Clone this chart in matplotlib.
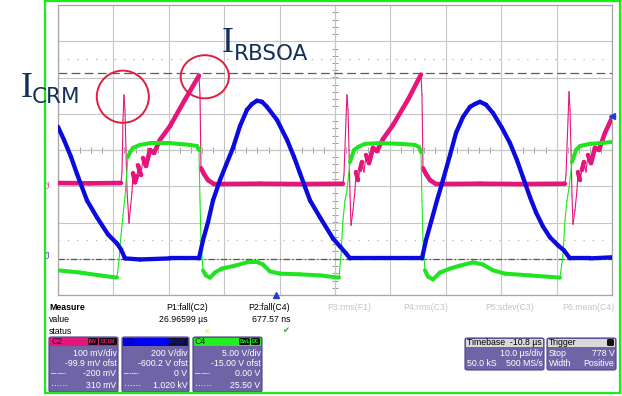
import numpy as np
import matplotlib.pyplot as plt
from matplotlib.collections import LineCollection
from matplotlib.patches import Ellipse, FancyBboxPatch, Rectangle

plt.rcParams['font.family'] = ['Liberation Sans', 'DejaVu Sans']

# SCREEN DATA: time in us (10 us/div), amplitude in screen divisions
# -------------------------
c2_t = [0, 5.78, 11.37, 11.55, 11.73, 11.91, 12.09, 12.27, 12.45, 12.82, 13.0, 13.36, 13.54,
        13.9, 14.26, 14.44, 14.98, 15.34, 15.88, 16.61, 17.33, 18.41, 20.22, 22.92, 25.45,
        25.63, 25.81, 26.35, 27.08, 28.16, 36.46, 43.68, 51.44,
        51.62, 51.98, 52.16, 52.35, 52.53, 52.71, 52.89, 53.25, 53.61, 53.79, 54.15, 54.51,
        54.87, 55.23, 55.6, 56.14, 56.86, 57.58, 58.66, 60.47, 63.18, 65.52, 65.7, 65.88,
        66.42, 67.15, 68.23, 76.17, 83.39, 91.51,
        91.69, 92.06, 92.24, 92.42, 92.6, 92.78, 92.96, 93.32, 93.68, 93.86, 94.22, 94.58,
        94.94, 95.3, 95.67, 96.21, 96.93, 97.65, 98.73, 100]
c2_y = [-0.91, -0.92, -0.91, -0.61, 0.83, 1.52, 1.11, 0.0, -1.11, -2.02, -1.72, -1.16, -0.64,
        -0.89, -0.72, -0.42, -0.69, -0.22, -0.44, 0.0, -0.08, 0.28, 0.66, 1.39, 2.05,
        1.52, -0.50, -0.66, -0.83, -0.94, -0.93, -0.94, -0.93,
        -0.69, 0.83, 1.52, 1.11, 0.0, -1.25, -2.08, -1.66, -1.11, -0.61, -0.83, -0.55,
        -0.33, -0.61, -0.14, -0.36, 0.06, -0.03, 0.30, 0.69, 1.39, 2.08, 1.52, -0.50,
        -0.66, -0.83, -0.94, -0.93, -0.94, -0.93,
        -0.69, 0.83, 1.61, 1.11, 0.0, -1.25, -2.05, -1.66, -1.11, -0.61, -0.83, -0.55,
        -0.33, -0.61, -0.14, -0.36, 0.06, 0.0, 0.47, 0.89]

c3_t = [0, 1.08, 2.35, 3.43, 5.23, 7.04, 9.03, 10.65, 11.37, 12.09, 14.8, 20.22, 25.45,
        26.17, 27.08, 27.98, 29.24, 30.32, 31.59, 32.85, 34.11, 35.02, 35.92, 36.82, 37.72,
        39.53, 41.34, 42.6, 43.68, 44.59, 45.49, 47.3, 49.64, 50.9, 51.98, 52.71, 58.12, 65.7,
        66.42, 67.33, 68.41, 69.49, 70.76, 71.84, 73.1, 74.37, 75.27, 76.17, 77.25, 78.52,
        80.14, 81.59, 82.85, 83.93, 85.2, 86.28, 87.54, 88.81, 90.25, 91.33, 92.42, 96.03, 100]
c3_y = [0.64, 0.28, -0.19, -0.66, -1.39, -1.86, -2.33, -2.58, -2.74, -2.99, -3.02, -2.99, -2.99,
        -2.49, -1.99, -1.39, -0.83, -0.42, 0.06, 0.66, 1.11, 1.27, 1.36, 1.33, 1.19,
        0.83, 0.28, -0.19, -0.64, -1.02, -1.39, -1.86, -2.44, -2.66, -2.85, -2.99, -2.99, -2.99,
        -2.49, -1.99, -1.39, -0.83, -0.14, 0.47, 0.91, 1.19, 1.27, 1.33, 1.25, 1.02,
        0.61, 0.19, -0.28, -0.75, -1.30, -1.72, -2.11, -2.41, -2.63, -2.77, -2.99, -2.99, -2.96]

c4_t = [0, 3.97, 7.58, 10.65, 11.01, 11.37, 11.73, 12.09, 12.45, 12.64, 13.0, 13.54, 14.8,
        16.61, 20.22, 23.83, 25.09, 25.45, 25.63, 25.81, 26.17, 26.71, 27.44, 28.34, 29.6,
        31.95, 34.11, 36.1, 37.0, 38.27, 40.07, 43.68, 47.29, 50.72,
        51.08, 51.44, 51.8, 52.16, 52.71, 53.43, 54.15, 55.41, 58.12, 61.73, 64.44, 65.16,
        65.52, 65.7, 65.88, 66.24, 66.79, 67.69, 68.95, 70.76, 72.56, 74.91, 76.71, 78.52,
        80.68, 85.2, 90.61,
        91.15, 91.51, 91.87, 92.24, 92.78, 93.5, 94.22, 96.03, 97.83, 100]
c4_y = [-3.32, -3.38, -3.46, -3.52, -3.05, -2.35, -1.80, -1.30, -0.55, -0.19, -0.06, 0.06, 0.14,
        0.19, 0.19, 0.14, 0.11, 0.0, -1.39, -2.49, -3.32, -3.46, -3.52, -3.38, -3.27,
        -3.19, -3.10, -3.10, -3.16, -3.35, -3.41, -3.43, -3.46, -3.52,
        -2.91, -1.94, -1.39, -1.11, -0.33, 0.0, 0.08, 0.17, 0.19, 0.17, 0.14, 0.08,
        -0.06, -1.39, -2.49, -3.32, -3.49, -3.57, -3.38, -3.27, -3.19, -3.10, -3.16, -3.32,
        -3.41, -3.46, -3.52,
        -2.91, -1.94, -1.39, -1.05, -0.33, 0.0, 0.11, 0.17, 0.19, 0.22]

# reference / cursor levels (div)
dash_level = 2.13
dot_levels = [2.52, -2.49]
c3_ground = -3.02
c2_marker = -0.92
trig_time = 39.3
trig_level = 0.94

# annotation circles: (time, level, width us, height div)
circles = [(11.7, 1.47, 9.4, 1.44), (26.5, 2.02, 8.7, 1.19)]

PINK = '#e5157c'
BLUE = '#0b0bdf'
GREEN = '#1fe41f'
NAVY = '#14305a'

W, H = 622, 396


def fx(px):
    return px / W


def fy(py):
    return 1 - py / H


def trace(ax, t, y, color, thick, z):
    pts = np.column_stack([t, y])
    segs = np.stack([pts[:-1], pts[1:]], axis=1)
    dx = np.diff(t) / 10 * 55.4
    dy = np.diff(y) * 36.1
    steep = np.abs(dy) > 5 * np.abs(dx)
    lw = np.where(steep, 0.8, thick)
    lc = LineCollection(segs, colors=color, linewidths=lw, capstyle='round',
                        joinstyle='round', zorder=z)
    ax.add_collection(lc)


fig = plt.figure(figsize=(6.22, 3.96), dpi=100)
pos = [fx(58), fy(295), fx(612) - fx(58), fy(5) - fy(295)]

# centre cross with minor ticks
ax2 = fig.add_axes(pos, zorder=0)
ax2.set_xlim(0, 100)
ax2.set_ylim(-4, 4)
for s in ['top', 'right']:
    ax2.spines[s].set_visible(False)
ax2.spines['left'].set_position(('data', 50))
ax2.spines['bottom'].set_position(('data', 0))
for s in ['left', 'bottom']:
    ax2.spines[s].set_color('#9a9a9a')
    ax2.spines[s].set_linewidth(0.8)
ax2.set_xticks(np.arange(0, 100.1, 2))
ax2.set_yticks(np.arange(-4, 4.01, 0.2))
ax2.tick_params(direction='inout', length=4, width=0.7, colors='#9a9a9a',
                labelleft=False, labelbottom=False)

ax = fig.add_axes(pos, zorder=1)
ax.patch.set_alpha(0)
ax.set_xlim(0, 100)
ax.set_ylim(-4, 4)
ax.set_xticks(np.arange(0, 101, 10))
ax.set_yticks(np.arange(-4, 5, 1))
ax.tick_params(length=0, labelleft=False, labelbottom=False)
ax.grid(True, color='#c6c6c6', lw=0.8)
for s in ax.spines.values():
    s.set_color('#a6a6a6')
    s.set_linewidth(0.9)

# cursors
ax.axhline(dash_level, color='#5c5c5c', lw=0.9, dashes=(7, 3.5), zorder=2)
for lv in dot_levels:
    ax.axhline(lv, color='#b4b4b4', lw=0.9, dashes=(1, 6.5), zorder=2)
ax.axhline(c3_ground, color='#555555', lw=0.9, dashes=(5, 2, 1, 2), zorder=2)

# traces
trace(ax, c2_t, c2_y, PINK, 3.3, 3)
trace(ax, c4_t, c4_y, GREEN, 2.9, 4)
trace(ax, c3_t, c3_y, BLUE, 3.1, 5)

# circles
for cx, cy, w, h in circles:
    ax.add_patch(Ellipse((cx, cy), w, h, fill=False, ec='#df1f3f', lw=1.4, zorder=6))

# channel markers
ax.text(-0.012, c2_marker, 'C2', transform=ax.get_yaxis_transform(), rotation=90,
        color=PINK, fontsize=4.8, ha='right', va='center')
ax.text(-0.012, c3_ground + 0.05, 'C3', transform=ax.get_yaxis_transform(), rotation=90,
        color=BLUE, fontsize=4.8, ha='right', va='bottom')
ax.plot([trig_time], [-4], marker='^', color='#1f3fd8', ms=5, clip_on=False,
        transform=ax.transData, zorder=7)
ax.plot([1.0], [trig_level], marker='<', color='#1f3fd8', ms=5, clip_on=False,
        transform=ax.get_yaxis_transform(), zorder=7)

# big labels
fig.text(fx(21), fy(97), 'I', family='Liberation Serif', fontsize=26, color=NAVY, va='baseline')
fig.text(fx(32), fy(103), 'CRM', family='DejaVu Sans', fontsize=15.5, color=NAVY, va='baseline')
fig.text(fx(222), fy(52), 'I', family='Liberation Serif', fontsize=26, color=NAVY, va='baseline')
fig.text(fx(234), fy(60), 'RBSOA', family='DejaVu Sans', fontsize=15.5, color=NAVY, va='baseline')

# MEASURE AREA
# -------------------------
fs = 6.3
fig.text(fx(49), fy(308), 'Measure', fontsize=fs, weight='bold', va='center')
fig.text(fx(49), fy(319), 'value', fontsize=fs, va='center')
fig.text(fx(49), fy(331), 'status', fontsize=fs, va='center')
fig.text(fx(208), fy(308), 'P1:fall(C2)', fontsize=fs, va='center', ha='right')
fig.text(fx(208), fy(319), '26.96599 µs', fontsize=fs, va='center', ha='right')
fig.text(fx(206), fy(331), '✕', family='DejaVu Sans', fontsize=5.5, va='center',
         ha='center', color='#ece070')
fig.text(fx(290), fy(308), 'P2:fall(C4)', fontsize=fs, va='center', ha='right')
fig.text(fx(290), fy(319), '677.57 ns', fontsize=fs, va='center', ha='right')
fig.text(fx(286), fy(331), '✔', family='DejaVu Sans', fontsize=6, va='center',
         ha='center', color='#1faa1f')
for px, lab in [(327, 'P3:rms(F1)'), (403, 'P4:rms(C3)'), (485, 'P5:sdev(C3)'), (562, 'P6:mean(C4)')]:
    fig.text(fx(px), fy(308), lab, fontsize=fs, va='center', color='#c4c4c4')

BODY = '#6f65a6'
EDGE = '#4b4386'


def panel(x0, x1, y0, y1, head_fc, head_text, head_tc, badges, badge_tc, rows):
    fig.patches.append(FancyBboxPatch((fx(x0), fy(y1)), fx(x1) - fx(x0), fy(y0) - fy(y1),
                                      boxstyle='round,pad=0,rounding_size=0.004', fc=BODY,
                                      ec=EDGE, lw=0.8, transform=fig.transFigure))
    fig.patches.append(Rectangle((fx(x0 + 1), fy(y0 + 9)), fx(x1) - fx(x0) - 2 / W, 8 / H,
                                 fc=head_fc, ec='none', transform=fig.transFigure))
    fig.text(fx(x0 + 2), fy(y0 + 4.5), head_text, fontsize=fs, color=head_tc, va='center')
    for bx0, bx1, lab in badges:
        fig.patches.append(FancyBboxPatch((fx(bx0), fy(y0 + 8)), fx(bx1) - fx(bx0), 7 / H,
                                          boxstyle='round,pad=0,rounding_size=0.003', fc='#111111',
                                          ec='none', transform=fig.transFigure))
        fig.text(fx((bx0 + bx1) / 2), fy(y0 + 4.5), lab, fontsize=3.6, color=badge_tc,
                 va='center', ha='center', weight='bold')
    for py, left, right in rows:
        if left:
            fig.text(fx(x0 + 2), fy(py), left, fontsize=fs, color='white', va='center')
        fig.text(fx(x1 - 1.5), fy(py), right, fontsize=fs, color='white', va='center', ha='right')


rows_y = [354, 364, 374, 385]
c2_rows = ['100 mV/div', '-99.9 mV ofst', '-200 mV', '310 mV']
c3_rows = ['200 V/div', '-600.2 V ofst', '0 V', '1.020 kV']
c4_rows = ['5.00 V/div', '-15.00 V ofst', '0.00 V', '25.50 V']
marks = ['', '', '–·–·', '······']

panel(49, 118, 337, 392, PINK, 'C2', '#3a0a20', [(88, 98, 'INV'), (99, 117, 'DC1M')], PINK,
      list(zip(rows_y, marks, c2_rows)))
panel(122, 189, 337, 392, '#0000f0', 'C3', '#00007a', [(168, 177, 'BwL'), (178, 187, 'DC')], BLUE,
      list(zip(rows_y, marks, c3_rows)))
panel(193, 262, 337, 392, '#22ee22', 'C4', '#0a3a0a', [(239, 250, 'BwL'), (251, 260, 'DC')], GREEN,
      list(zip(rows_y, marks, c4_rows)))

panel(465, 544, 338, 370, '#d9d9d9', 'Timebase  -10.8 µs', 'black', [], 'white',
      [(354, '', '10.0 µs/div'), (364, '50.0 kS', '500 MS/s')])
panel(547, 616, 338, 370, '#d9d9d9', 'Trigger', 'black', [(607, 614, '')], 'white',
      [(354, 'Stop', '778 V'), (364, 'Width', 'Positive')])

# green frame
fig.patches.append(Rectangle((fx(45), fy(393)), fx(620) - fx(45), fy(1) - fy(393), fill=False,
                             ec='#14f014', lw=1.6, transform=fig.transFigure))

fig.savefig('out.png', dpi=100)
